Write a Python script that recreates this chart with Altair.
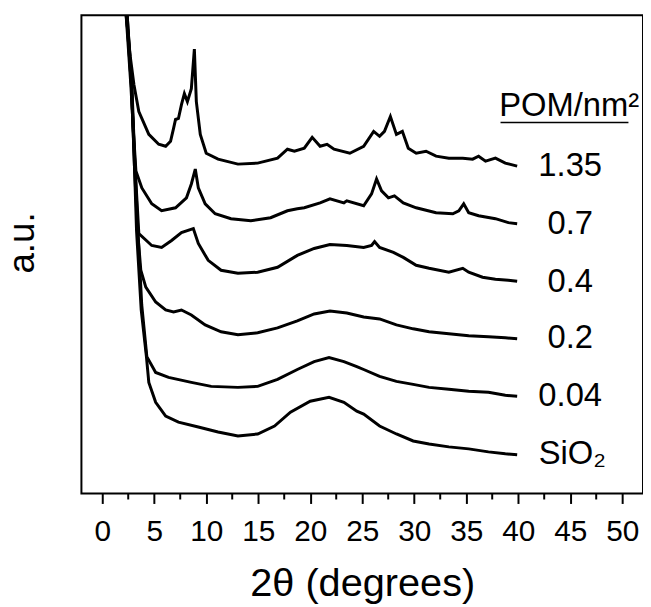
import altair as alt
import pandas as pd

# 2-theta (degrees) and intensity (a.u.)
x_135 = [1.9, 2.3, 2.7, 3.05, 3.52, 4.48, 5.43, 6.10, 6.57, 6.86, 7.05, 7.33, 7.62, 7.90, 8.19, 8.57, 8.86, 9.05,
         9.43, 10.0, 11.14, 13.05, 14.95, 16.86, 17.81, 18.48, 19.43, 20.19, 20.95, 21.62, 22.29, 23.81, 25.14,
         26.10, 26.67, 27.14, 27.71, 28.29, 28.86, 29.43, 30.19, 31.14, 32.10, 33.33, 34.67, 35.62, 36.19, 36.86,
         37.81, 38.76, 39.90]
y_135 = [600, 482, 440, 412, 385, 362, 352, 350, 355, 368, 377, 378, 392, 403, 395, 408, 448, 395,
         362, 343, 337, 332, 333, 338, 347, 345, 348, 359, 350, 352, 347, 343, 350,
         365, 360, 365, 380, 362, 365, 348, 343, 345, 340, 338, 338, 337, 340, 335,
         338, 333, 330]

x_07 = [1.9, 2.3, 2.75, 3.0, 3.24, 3.81, 4.76, 5.71, 7.05, 8.10, 8.57, 8.95, 9.24, 9.90, 10.86, 12.38, 14.29,
        16.19, 17.81, 18.76, 19.43, 20.95, 21.90, 23.24, 23.52, 25.14, 25.90, 26.38, 26.86, 27.52, 28.10,
        28.95, 30.19, 32.10, 33.71, 34.29, 34.76, 35.24, 36.19, 37.81, 39.05, 39.90]
y_07 = [600, 482, 412, 365, 325, 308, 292, 285, 288, 298, 312, 327, 308, 292, 282, 277, 275,
        278, 285, 287, 288, 293, 297, 293, 295, 290, 302, 317, 305, 298, 300,
        293, 288, 283, 282, 285, 292, 283, 280, 277, 273, 272]

x_04 = [1.9, 2.35, 2.8, 3.1, 3.52, 4.76, 5.71, 6.67, 7.62, 8.76, 9.24, 10.19, 11.43, 13.05, 14.95, 16.86,
        18.76, 20.38, 21.90, 23.52, 25.14, 25.90, 26.19, 26.67, 28.0, 28.95, 30.19, 31.43, 33.33, 34.67,
        35.24, 36.57, 37.81, 39.05, 39.90]
y_04 = [600, 482, 412, 340, 262, 250, 248, 255, 263, 267, 252, 235, 225, 222, 223, 228,
        240, 247, 251, 250, 248, 250, 254, 248, 243, 238, 230, 227, 223, 227,
        223, 218, 216, 215, 214]

x_02 = [1.9, 2.35, 2.8, 3.1, 3.4, 3.71, 4.19, 5.14, 6.10, 6.86, 7.62, 8.57, 9.90, 11.43, 13.05, 14.95, 16.86,
        18.76, 20.38, 21.90, 23.52, 25.14, 26.67, 28.29, 29.90, 31.43, 33.33, 35.24, 37.14, 38.76, 39.90]
y_02 = [600, 482, 412, 330, 265, 225, 208, 193, 185, 183, 185, 180, 170, 163, 160, 162, 167,
        174, 181, 184, 182, 178, 176, 170, 166, 163, 161, 159, 158, 157, 156]

x_004 = [1.9, 2.4, 2.85, 3.15, 3.43, 3.8, 4.29, 5.14, 6.38, 8.57, 10.48, 13.05, 14.95, 16.86, 18.76, 20.38,
         21.81, 23.24, 24.48, 25.14, 26.67, 28.29, 29.90, 31.43, 33.33, 35.24, 37.14, 38.76, 39.90]
y_004 = [600, 482, 412, 330, 265, 190, 138, 122, 117, 112, 108, 107, 108, 115, 125, 133,
         137, 133, 128, 125, 118, 113, 110, 107, 105, 103, 102, 99, 98]

x_sio2 = [1.9, 2.4, 2.82, 3.1, 3.3, 3.75, 4.25, 4.48, 5.14, 6.10, 7.33, 9.24, 11.14, 13.05, 14.95, 16.57,
          18.10, 20.0, 21.81, 23.24, 24.48, 25.14, 26.67, 28.29, 29.90, 31.43, 33.33, 35.24, 37.14, 38.76, 39.90]
y_sio2 = [600, 482, 412, 330, 265, 185, 138, 112, 92, 78, 72, 67, 62, 58, 60, 68,
          82, 93, 97, 92, 83, 80, 68, 60, 53, 50, 47, 45, 42, 40, 39]

series_names = ["1.35", "0.7", "0.4", "0.2", "0.04", "SiO2"]
series_x = [x_135, x_07, x_04, x_02, x_004, x_sio2]
series_y = [y_135, y_07, y_04, y_02, y_004, y_sio2]

# labels on the right
label_text = ["POM/nm²", "1.35", "0.7", "0.4", "0.2", "0.04", "SiO₂"]
label_x = [44.9, 45.0, 45.0, 45.0, 45.0, 45.0, 45.2]
label_y = [390, 330, 272, 213, 157, 98, 40]

underline_x = [38.3]
underline_x2 = [50.6]
underline_y = [374]

major_ticks = [0, 5, 10, 15, 20, 25, 30, 35, 40, 45, 50]
minor_ticks = [2.5, 7.5, 12.5, 17.5, 22.5, 27.5, 32.5, 37.5, 42.5, 47.5]

rows = []
for name, xs, ys in zip(series_names, series_x, series_y):
    for xv, yv in zip(xs, ys):
        rows.append({"x": xv, "y": yv, "series": name})
df = pd.DataFrame(rows)
labels_df = pd.DataFrame({"x": label_x, "y": label_y, "text": label_text})
ul_df = pd.DataFrame({"x": underline_x, "x2": underline_x2, "y": underline_y})
minor_df = pd.DataFrame({"x": minor_ticks})

xscale = alt.Scale(domain=[-2, 52], nice=False, zero=False)
yscale = alt.Scale(domain=[0, 482], nice=False, zero=False)

font = "Liberation Sans"

lines = alt.Chart(df).mark_line(color="black", strokeWidth=3, clip=True).encode(
    x=alt.X("x:Q", scale=xscale,
            axis=alt.Axis(values=major_ticks, title="2θ (degrees)", orient="bottom",
                          domain=False, grid=False, tickSize=10, tickWidth=2, tickColor="black",
                          labelFontSize=30, labelFont=font, labelColor="black", labelPadding=13,
                          titleFontSize=40, titleFont=font, titleColor="black", titleFontWeight="normal",
                          titlePadding=18, format="d", labelFlush=False, labelOverlap=False)),
    y=alt.Y("y:Q", scale=yscale,
            axis=alt.Axis(labels=False, ticks=False, domain=False, grid=False, title="a.u.",
                          titleFontSize=37, titleFont=font, titleColor="black",
                          titleFontWeight="normal", titlePadding=40, titleY=229)),
    detail="series:N",
)

minor = alt.Chart(minor_df).mark_rule(color="black", strokeWidth=2).encode(
    x=alt.X("x:Q", scale=xscale),
    y=alt.value(482),
    y2=alt.value(488),
)

texts = alt.Chart(labels_df).mark_text(align="center", baseline="middle", fontSize=33,
                                       font=font, color="black").encode(
    x=alt.X("x:Q", scale=xscale),
    y=alt.Y("y:Q", scale=yscale),
    text="text:N",
)

underline = alt.Chart(ul_df).mark_rule(color="black", strokeWidth=1.6).encode(
    x=alt.X("x:Q", scale=xscale),
    x2="x2:Q",
    y=alt.Y("y:Q", scale=yscale),
)

chart = alt.layer(lines, minor, texts, underline).properties(
    width=566, height=482,
    autosize=alt.AutoSizeParams(type="none"),
    padding={"left": 74, "top": 5, "right": 0, "bottom": 110},
    background="white",
).configure_view(stroke="black", strokeWidth=2)

chart.save("out.html", embed_options={"renderer": "svg", "actions": False})
